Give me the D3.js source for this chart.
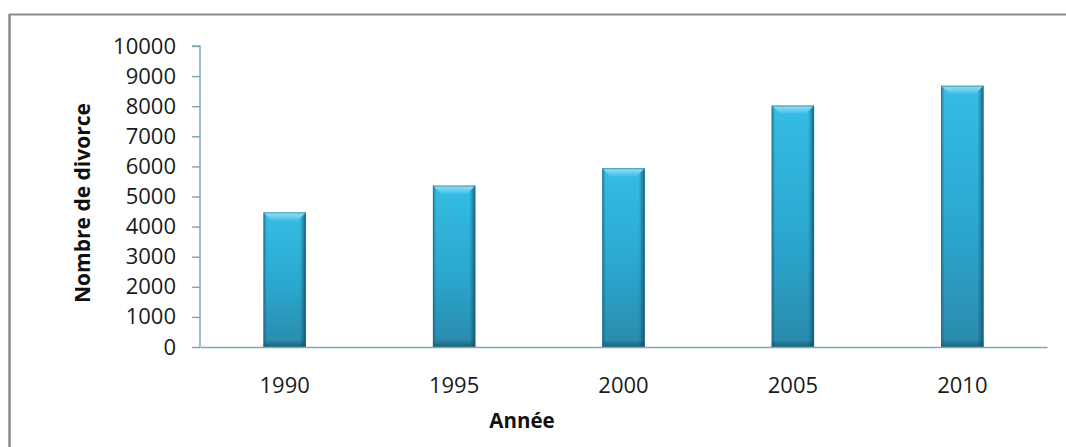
<!DOCTYPE html>
<html>
<head>
<meta charset="utf-8">
<script src="https://cdn.jsdelivr.net/npm/d3@7"></script>
<style>
  html, body { margin: 0; padding: 0; background: #fff; }
  svg { display: block; }
  text { font-family: "Open Sans", "DejaVu Sans", sans-serif; }
</style>
</head>
<body>
<svg id="chart" width="1066" height="447"></svg>
<script>
// Number of divorces per year
const years = ["1990", "1995", "2000", "2005", "2010"];
const divorces = [4470, 5360, 5940, 8020, 8680];
const yTicks = [0, 1000, 2000, 3000, 4000, 5000, 6000, 7000, 8000, 9000, 10000];
const xTitle = "Année";
const yTitle = "Nombre de divorce";

const svg = d3.select("#chart");
const W = 1066, H = 447;
const plot = { left: 200, right: 1047, top: 46, bottom: 347 };

// frame of the chart object (left and top edges)
svg.append("line").attr("x1", 9.5).attr("x2", 9.5).attr("y1", 14).attr("y2", H)
  .attr("stroke", "#8a8a8a").attr("stroke-width", 2.5);
svg.append("line").attr("x1", 9).attr("x2", W).attr("y1", 14.5).attr("y2", 14.5)
  .attr("stroke", "#8a8a8a").attr("stroke-width", 2);

const x = d3.scaleBand().domain(years).range([plot.left, plot.right])
  .paddingInner(0.75).paddingOuter(0.375);
const y = d3.scaleLinear().domain([0, 10000]).range([plot.bottom, plot.top]);

// gradients for the bevelled bars
const defs = svg.append("defs");
const body = defs.append("linearGradient").attr("id", "barBody")
  .attr("x1", 0).attr("y1", 0).attr("x2", 0).attr("y2", 1);
body.append("stop").attr("offset", "0%").attr("stop-color", "#35bde4");
body.append("stop").attr("offset", "55%").attr("stop-color", "#2aa7cf");
body.append("stop").attr("offset", "100%").attr("stop-color", "#2a8aab");

const side = defs.append("linearGradient").attr("id", "barSide")
  .attr("x1", 0).attr("y1", 0).attr("x2", 1).attr("y2", 0);
side.append("stop").attr("offset", "0%").attr("stop-color", "#13526a").attr("stop-opacity", 0.55);
side.append("stop").attr("offset", "8%").attr("stop-color", "#13526a").attr("stop-opacity", 0.0);
side.append("stop").attr("offset", "86%").attr("stop-color", "#13526a").attr("stop-opacity", 0.0);
side.append("stop").attr("offset", "100%").attr("stop-color", "#0e4257").attr("stop-opacity", 0.75);

const bevel = defs.append("linearGradient").attr("id", "barBevel")
  .attr("x1", 0).attr("y1", 0).attr("x2", 0).attr("y2", 1);
bevel.append("stop").attr("offset", "0%").attr("stop-color", "#9fe0f4");
bevel.append("stop").attr("offset", "100%").attr("stop-color", "#42c0e6");

const bottomShade = defs.append("linearGradient").attr("id", "barFoot")
  .attr("x1", 0).attr("y1", 0).attr("x2", 0).attr("y2", 1);
bottomShade.append("stop").attr("offset", "0%").attr("stop-color", "#0e4257").attr("stop-opacity", 0);
bottomShade.append("stop").attr("offset", "100%").attr("stop-color", "#0e4257").attr("stop-opacity", 0.6);

const data = years.map((yr, i) => ({ year: yr, value: divorces[i] }));
const bars = svg.append("g").selectAll("g").data(data).join("g");

bars.append("rect")
  .attr("x", d => x(d.year)).attr("width", x.bandwidth())
  .attr("y", d => y(d.value)).attr("height", d => y(0) - y(d.value))
  .attr("fill", "url(#barBody)");
bars.append("rect")
  .attr("x", d => x(d.year)).attr("width", x.bandwidth())
  .attr("y", d => y(d.value)).attr("height", d => y(0) - y(d.value))
  .attr("fill", "url(#barSide)");
bars.append("rect")
  .attr("x", d => x(d.year)).attr("width", x.bandwidth())
  .attr("y", y(0) - 7).attr("height", 7)
  .attr("fill", "url(#barFoot)");
// light bevel across the top of each bar
const bv = 8;
bars.append("path")
  .attr("d", d => {
    const x0 = x(d.year), x1 = x0 + x.bandwidth(), t = y(d.value);
    return `M${x0},${t}L${x1},${t}L${x1 - bv},${t + bv}L${x0 + bv},${t + bv}Z`;
  })
  .attr("fill", "url(#barBevel)");
bars.append("rect")
  .attr("x", d => x(d.year) + 0.5).attr("width", x.bandwidth() - 1)
  .attr("y", d => y(d.value) + 0.5).attr("height", d => y(0) - y(d.value) - 1)
  .attr("fill", "none").attr("stroke", "#1b6f8a").attr("stroke-width", 1).attr("stroke-opacity", 0.6);

// axes
const axisColor = "#7fa8b8";
const yAxis = svg.append("g").attr("transform", `translate(${plot.left},0)`)
  .call(d3.axisLeft(y).tickValues(yTicks).tickSize(8).tickPadding(16).tickFormat(d3.format("d")));
yAxis.select(".domain").attr("stroke", axisColor).attr("stroke-width", 1.5).attr("d", `M-8,${plot.top}H0V${plot.bottom}`);
yAxis.selectAll(".tick line").attr("stroke", axisColor).attr("stroke-width", 1.5);
yAxis.selectAll(".tick text").attr("font-size", 22).attr("fill", "#1a1a1a")
  .attr("font-family", "'Open Sans', sans-serif");

const xAxis = svg.append("g").attr("transform", `translate(0,${plot.bottom})`)
  .call(d3.axisBottom(x).tickSize(0).tickPadding(30));
xAxis.select(".domain").attr("stroke", axisColor).attr("stroke-width", 1.5);
xAxis.selectAll(".tick text").attr("font-size", 22).attr("fill", "#1a1a1a")
  .attr("font-family", "'Open Sans', sans-serif");

// axis titles
svg.append("text").attr("x", 522).attr("y", 428).attr("text-anchor", "middle")
  .attr("font-size", 20.5).attr("font-weight", "bold").attr("fill", "#111").text(xTitle);
svg.append("text").attr("transform", "translate(90,203) rotate(-90)").attr("text-anchor", "middle")
  .attr("font-size", 21).attr("font-weight", "bold").attr("fill", "#111").text(yTitle);
</script>
</body>
</html>
